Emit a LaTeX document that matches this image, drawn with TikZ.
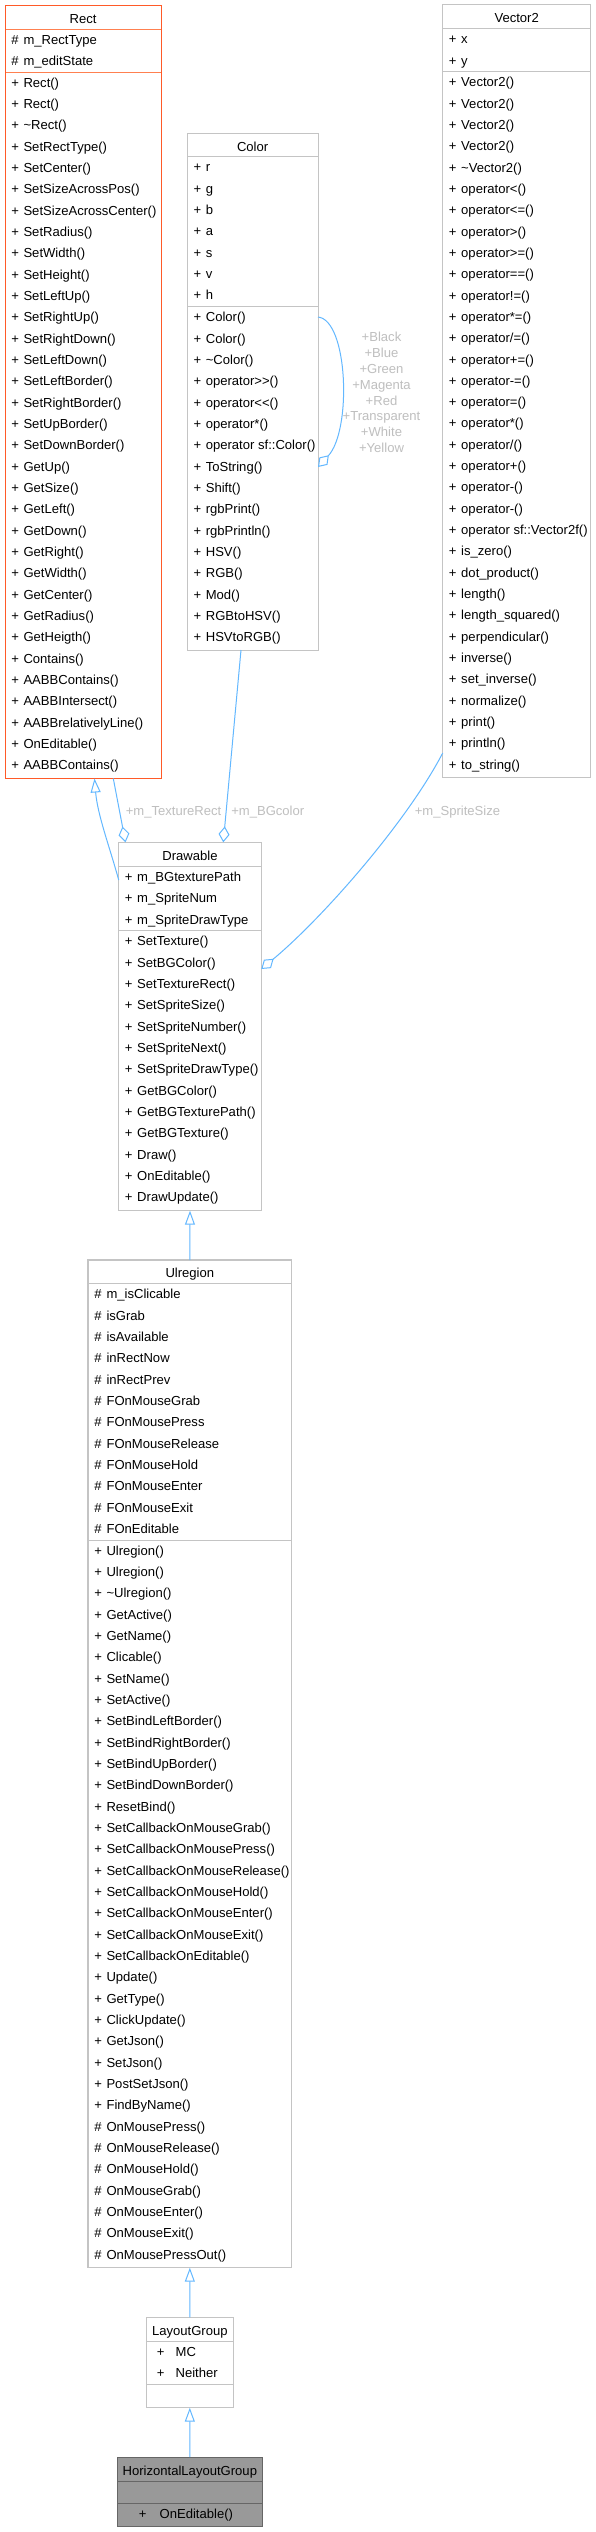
\documentclass[tikz,border=0pt]{standalone}
\usepackage{fontspec}
\setmainfont{Liberation Sans}[Ligatures=TeXOff]
\usetikzlibrary{arrows.meta}
\definecolor{rectborder}{HTML}{FF5A28}
\definecolor{rectdiv}{HTML}{FF8050}
\definecolor{grayborder}{HTML}{C4C4C4}
\definecolor{hlgfill}{HTML}{999999}
\definecolor{hlgborder}{HTML}{666666}
\definecolor{edgeblue}{HTML}{63B8FF}
\definecolor{lblgray}{HTML}{BFBFBF}
\newcommand\dfont{\fontsize{9.8pt}{11pt}\selectfont}
\newcommand\vis[1]{\makebox[9.2pt][l]{#1}}
\newcommand\pub{\vis{+}}
\newcommand\prot{\vis{\#}}
\newcommand\tld{\textasciitilde}
\tikzset{
  box/.style={draw=grayborder, line width=0.75pt, fill=white, inner sep=0pt, outer sep=0pt, anchor=north west},
  div/.style={draw=grayborder, line width=0.75pt},
  rowtext/.style={anchor=base west, inner sep=0pt, font=\dfont, text=black},
  titletext/.style={anchor=base, inner sep=0pt, font=\dfont, text=black},
  inherit/.style={draw=edgeblue, line width=0.75pt, -{Triangle[open, length=10.5pt, width=7.5pt]}},
  aggr/.style={draw=edgeblue, line width=0.75pt, -{Diamond[open, length=12pt, width=8.25pt]}},
  lbl/.style={anchor=base west, inner sep=0pt, text=lblgray, font=\dfont},
  lblc/.style={anchor=base, inner sep=0pt, text=lblgray, font=\dfont},
}
% #1 name, #2 left, #3 right, #4 top, #5 d1, #6 bottom, #7 title, #8 style
\newcommand\classbox[8]{%
  \node[box,#8, minimum width={(#3-#2)*0.75pt}, minimum height={(#6-#4)*0.75pt}] (#1) at (#2,#4) {};
  \node[titletext] (#1-title) at ({(#2+#3)/2},{(#4+#5)/2+6}) {#7};
}
% #1 name prefix, #2 x, #3 section top y, #4 list
\newcommand\classrows[4]{%
  \foreach \rowtxt [count=\ri from 0] in {#4} {\node[rowtext] (#1-\ri) at (#2, #3+15.2+\ri*21.33) {\rowtxt};}
}
\begin{document}
\begin{tikzpicture}[x=0.75pt,y=-0.75pt]
\useasboundingbox (0,0) rectangle (596,2532);
\fill[white] (0,0) rectangle (596,2532);

% ---------- Rect ----------
\classbox{rect}{5}{161}{5}{29}{778}{Rect}{draw=rectborder}
\draw[div, draw=rectdiv] (5,29) -- (161,29) (5,72) -- (161,72);
\draw[draw=rectborder, line width=0.75pt] (5,5) rectangle (161,778);
\classrows{rectA}{11}{29}{\prot m\_RectType, \prot m\_editState}
\classrows{rectM}{11}{72}{\pub Rect(), \pub Rect(), \pub\tld Rect(), \pub SetRectType(), \pub SetCenter(), \pub SetSizeAcrossPos(), \pub SetSizeAcrossCenter(), \pub SetRadius(), \pub SetWidth(), \pub SetHeight(), \pub SetLeftUp(), \pub SetRightUp(), \pub SetRightDown(), \pub SetLeftDown(), \pub SetLeftBorder(), \pub SetRightBorder(), \pub SetUpBorder(), \pub SetDownBorder(), \pub GetUp(), \pub GetSize(), \pub GetLeft(), \pub GetDown(), \pub GetRight(), \pub GetWidth(), \pub GetCenter(), \pub GetRadius(), \pub GetHeigth(), \pub Contains(), \pub AABBContains(), \pub AABBIntersect(), \pub AABBrelativelyLine(), \pub OnEditable(), \pub AABBContains()}

% ---------- Color ----------
\classbox{color}{187.3}{318}{133.3}{156.7}{650}{Color}{}
\draw[div] (187.3,156.7) -- (318,156.7) (187.3,306.7) -- (318,306.7);
\classrows{colorA}{193.3}{156.7}{\pub r, \pub g, \pub b, \pub a, \pub s, \pub v, \pub h}
\classrows{colorM}{193.3}{306.7}{\pub Color(), \pub Color(), \pub\tld Color(), \pub operator>>(), \pub operator<<(), \pub operator*(), \pub operator sf::Color(), \pub ToString(), \pub Shift(), \pub rgbPrint(), \pub rgbPrintln(), \pub HSV(), \pub RGB(), \pub Mod(), \pub RGBtoHSV(), \pub HSVtoRGB()}

% ---------- Vector2 ----------
\classbox{vec}{442.7}{590.7}{4.5}{28.5}{777.7}{Vector2}{}
\draw[div] (442.7,28.5) -- (590.7,28.5) (442.7,71.5) -- (590.7,71.5);
\classrows{vecA}{448.7}{28.5}{\pub x, \pub y}
\classrows{vecM}{448.7}{71.5}{\pub Vector2(), \pub Vector2(), \pub Vector2(), \pub Vector2(), \pub\tld Vector2(), \pub operator<(), \pub operator<=(), \pub operator>(), \pub operator>=(), \pub operator==(), \pub operator!=(), \pub operator*=(), \pub operator/=(), \pub operator+=(), \pub operator-=(), \pub operator=(), \pub operator*(), \pub operator/(), \pub operator+(), \pub operator-(), \pub operator-(), \pub operator sf::Vector2f(), \pub is\_zero(), \pub dot\_product(), \pub length(), \pub length\_squared(), \pub perpendicular(), \pub inverse(), \pub set\_inverse(), \pub normalize(), \pub print(), \pub println(), \pub to\_string()}

% ---------- Drawable ----------
\classbox{drawable}{118.7}{261.3}{842.3}{866.3}{1210.7}{Drawable}{}
\draw[div] (118.7,866.3) -- (261.3,866.3) (118.7,930.7) -- (261.3,930.7);
\classrows{drawA}{124.7}{866.3}{\pub m\_BGtexturePath, \pub m\_SpriteNum, \pub m\_SpriteDrawType}
\classrows{drawM}{124.7}{930.7}{\pub SetTexture(), \pub SetBGColor(), \pub SetTextureRect(), \pub SetSpriteSize(), \pub SetSpriteNumber(), \pub SetSpriteNext(), \pub SetSpriteDrawType(), \pub GetBGColor(), \pub GetBGTexturePath(), \pub GetBGTexture(), \pub Draw(), \pub OnEditable(), \pub DrawUpdate()}

% ---------- Ulregion ----------
\classbox{ulregion}{88}{291.7}{1260}{1283.7}{2267.7}{Ulregion}{line width=1pt}
\draw[div] (88,1283.7) -- (291.7,1283.7) (88,1540) -- (291.7,1540);
\classrows{ulA}{94}{1283.7}{\prot m\_isClicable, \prot isGrab, \prot isAvailable, \prot inRectNow, \prot inRectPrev, \prot FOnMouseGrab, \prot FOnMousePress, \prot FOnMouseRelease, \prot FOnMouseHold, \prot FOnMouseEnter, \prot FOnMouseExit, \prot FOnEditable}
\classrows{ulM}{94}{1540}{\pub Ulregion(), \pub Ulregion(), \pub\tld Ulregion(), \pub GetActive(), \pub GetName(), \pub Clicable(), \pub SetName(), \pub SetActive(), \pub SetBindLeftBorder(), \pub SetBindRightBorder(), \pub SetBindUpBorder(), \pub SetBindDownBorder(), \pub ResetBind(), \pub SetCallbackOnMouseGrab(), \pub SetCallbackOnMousePress(), \pub SetCallbackOnMouseRelease(), \pub SetCallbackOnMouseHold(), \pub SetCallbackOnMouseEnter(), \pub SetCallbackOnMouseExit(), \pub SetCallbackOnEditable(), \pub Update(), \pub GetType(), \pub ClickUpdate(), \pub GetJson(), \pub SetJson(), \pub PostSetJson(), \pub FindByName(), \prot OnMousePress(), \prot OnMouseRelease(), \prot OnMouseHold(), \prot OnMouseGrab(), \prot OnMouseEnter(), \prot OnMouseExit(), \prot OnMousePressOut()}

% ---------- LayoutGroup ----------
\classbox{layout}{146.3}{233.3}{2317.3}{2341}{2407.7}{LayoutGroup}{}
\draw[div] (146.3,2341) -- (233.3,2341) (146.3,2384) -- (233.3,2384);
\classrows{layA}{156.7}{2341}{\makebox[14pt][l]{+}MC, \makebox[14pt][l]{+}Neither}

% ---------- HorizontalLayoutGroup ----------
\classbox{hlg}{117}{262.7}{2457}{2481.7}{2526.7}{HorizontalLayoutGroup}{fill=hlgfill, draw=hlgborder}
\draw[div, draw=hlgborder] (117,2481.7) -- (262.7,2481.7) (117,2503) -- (262.7,2503);
\classrows{hlgM}{138.7}{2503}{\makebox[15.5pt][l]{+}OnEditable()}

% ---------- connector end points ----------
\coordinate (dInh) at (118.7,880);
\coordinate (rInh) at (94.5,778.5);
\coordinate (rAgg) at (113.3,778.5);
\coordinate (dAggR) at (125.5,842.3);
\coordinate (cAgg) at (241,650);
\coordinate (dAggC) at (223.3,842.3);
\coordinate (vAgg) at (442.7,753);
\coordinate (dAggV) at (261.3,969);
\coordinate (cLoopA) at (318,317);
\coordinate (cLoopB) at (318,467);

% ---------- connectors ----------
\draw[inherit] (dInh) .. controls (110,848) and (97.5,815) .. (rInh);
\draw[aggr] (rAgg) -- (dAggR);
\draw[aggr] (cAgg) -- (dAggC);
\draw[aggr] (vAgg) .. controls (406.3,823) and (321.5,919) .. (dAggV);
\draw[aggr] (cLoopA) .. controls (348,320) and (352,430) .. (cLoopB);
\draw[inherit] (ulregion.north) -- (drawable.south);
\draw[inherit] (layout.north) -- (ulregion.south);
\draw[inherit] (hlg.north) -- (layout.south);

% ---------- labels ----------
\node[lbl] (lTex) at (125.5,815) {+m\_TextureRect};
\node[lbl] (lBG) at (231,815) {+m\_BGcolor};
\node[lbl] (lSS) at (414.5,815) {+m\_SpriteSize};
\foreach \cn [count=\ci from 0] in {+Black, +Blue, +Green, +Magenta, +Red, +Transparent, +White, +Yellow}
  {\node[lblc] (lc\ci) at (381.5, 341.2+\ci*15.95) {\cn};}
\end{tikzpicture}
\end{document}
